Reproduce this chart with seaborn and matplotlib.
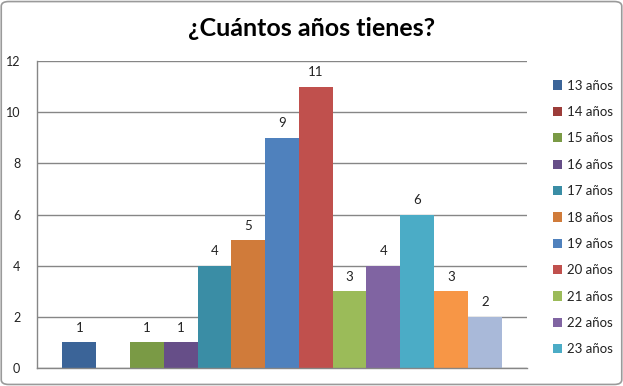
import matplotlib
matplotlib.use('Agg')
import pandas as pd
import matplotlib.pyplot as plt
import seaborn as sns
from matplotlib.patches import FancyBboxPatch

edades = ['13 años', '14 años', '15 años', '16 años', '17 años', '18 años', '19 años',
          '20 años', '21 años', '22 años', '23 años', '24 años', '25 años']
respuestas = [1, 0, 1, 1, 4, 5, 9, 11, 3, 4, 6, 3, 2]
colores = ['#3B6498', '#9C3C39', '#7A9A45', '#664E88', '#3A8DA5', '#D07B3A', '#4F81BD',
           '#C0504D', '#9BBB59', '#8064A2', '#4BACC6', '#F79646', '#A9B9D9']

df = pd.DataFrame({'grupo': ['Total'] * len(edades), 'edad': edades, 'n': respuestas})

sns.set_style('white')
plt.rcParams['font.family'] = ['Lato', 'DejaVu Sans']

fig = plt.figure(figsize=(6.23, 3.86), dpi=100)
ax = fig.add_axes([37 / 623, 18 / 386, 490 / 623, 307 / 386])

sns.barplot(data=df, x='grupo', y='n', hue='edad', hue_order=edades,
            palette=colores, width=13 / 14.5, saturation=1, linewidth=0,
            legend=False, ax=ax)

ax.set_xlim(-0.5, 0.5)
ax.set_ylim(0, 12)
ax.set_yticks(range(0, 13, 2))
ax.set_xticks([])
ax.set_xlabel('')
ax.set_ylabel('')
ax.tick_params(axis='y', labelsize=9, length=0, pad=12, colors='#222222')
ax.grid(axis='y', color='#868686', linewidth=1)
ax.set_axisbelow(True)
for s in ['top', 'right']:
    ax.spines[s].set_visible(False)
for s in ['left', 'bottom']:
    ax.spines[s].set_color('#868686')
    ax.spines[s].set_linewidth(1)

for bars, v in zip(ax.containers, respuestas):
    ax.bar_label(bars, labels=[str(v) if v > 0 else ''], padding=6, fontsize=9.5, color='#222222')

# Excel cut the legend after 23 años
fig.legend(ax.containers[:11], edades[:11], loc='upper left',
           bbox_to_anchor=(546 / 623, 1 - 73 / 386), frameon=False, fontsize=9.5,
           handlelength=0.7, handleheight=0.7, handletextpad=0.4, labelspacing=1.09,
           borderpad=0, labelcolor='#222222')

fig.text(0.5, 1 - 28 / 386, '¿Cuántos años tienes?', ha='center', va='center',
         fontsize=18, fontweight='bold', color='black')

fig.patches.append(FancyBboxPatch((0.002, 0.004), 0.996, 0.992, boxstyle='round,pad=0,rounding_size=0.012',
                                  transform=fig.transFigure, fill=False, edgecolor='#9A9A9A', linewidth=1.2))

fig.savefig('out.png', dpi=100)
